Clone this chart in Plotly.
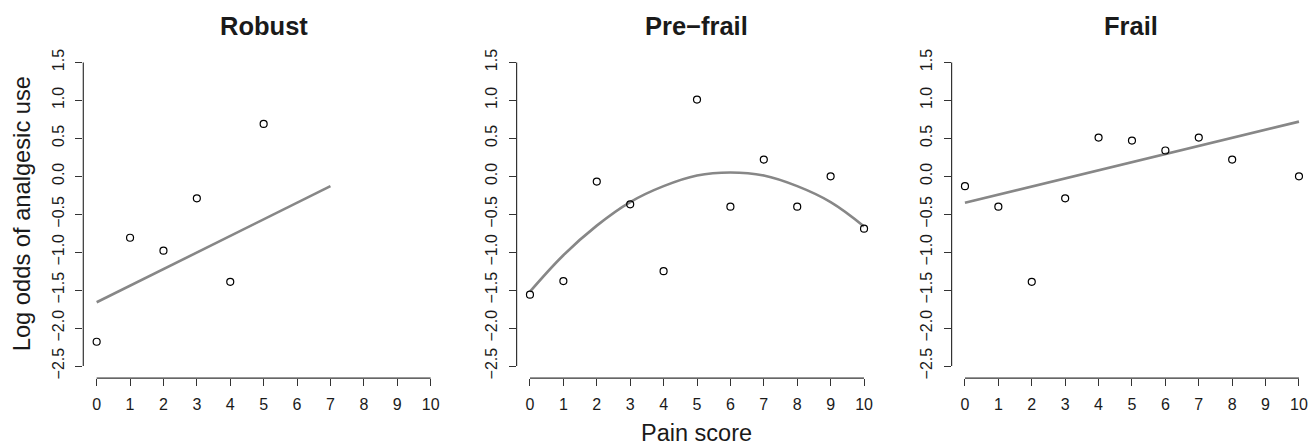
import plotly.graph_objects as go

# ---- data ----
panel_titles = ["Robust", "Pre\u2212frail", "Frail"]

pain_robust = [0, 1, 2, 3, 4, 5]
logodds_robust = [-2.18, -0.81, -0.98, -0.29, -1.39, 0.69]
fit_robust_x = [0, 7]
fit_robust_y = [-1.66, -0.13]

pain_prefrail = [0, 1, 2, 3, 4, 5, 6, 7, 8, 9, 10]
logodds_prefrail = [-1.56, -1.38, -0.07, -0.37, -1.25, 1.01, -0.40, 0.22, -0.40, 0.0, -0.69]
fit_prefrail_x = [0, 1, 2, 3, 4, 5, 6, 7, 8, 9, 10]
fit_prefrail_y = [-1.52, -1.04, -0.65, -0.34, -0.13, 0.01, 0.05, 0.01, -0.13, -0.34, -0.66]

pain_frail = [0, 1, 2, 3, 4, 5, 6, 7, 8, 10]
logodds_frail = [-0.13, -0.40, -1.39, -0.29, 0.51, 0.47, 0.34, 0.51, 0.22, 0.0]
fit_frail_x = [0, 10]
fit_frail_y = [-0.35, 0.72]

x_ticks = [0, 1, 2, 3, 4, 5, 6, 7, 8, 9, 10]
y_ticks = [-2.5, -2.0, -1.5, -1.0, -0.5, 0.0, 0.5, 1.0, 1.5]
y_ticklabels = ["\u22122.5", "\u22122.0", "\u22121.5", "\u22121.0", "\u22120.5", "0.0", "0.5", "1.0", "1.5"]

x_label = "Pain score"
y_label = "Log odds of analgesic use"

# ---- styling ----
W, H = 1311, 446
OFF = 0  # body margin removed by post_script below
FONT = "Liberation Sans, Arial, Helvetica, sans-serif"
AX_COLOR = "#333333"
TXT_COLOR = "#1a1a1a"
FIT_COLOR = "#878787"


def fx_(p):  # page px -> paper x
    return (p - OFF) / W


def fy_(p):  # page px -> paper y
    return 1 - (p - OFF) / H


# plot-area page-pixel boxes (left, right) for each panel
panel_px = [(83.3, 444.0), (516.6, 877.4), (951.6, 1311.0)]
x_ranges = [[-0.4, 10.4], [-0.4, 10.4], [-0.4, 10.36]]
y_dom = [fy_(378.9), fy_(49.5)]
y_range = [-2.66, 1.66]

series = [
    (pain_robust, logodds_robust, fit_robust_x, fit_robust_y, "linear"),
    (pain_prefrail, logodds_prefrail, fit_prefrail_x, fit_prefrail_y, "spline"),
    (pain_frail, logodds_frail, fit_frail_x, fit_frail_y, "linear"),
]

fig = go.Figure()
layout = dict(
    width=W, height=H,
    margin=dict(l=0, r=0, t=0, b=0),
    paper_bgcolor="white", plot_bgcolor="white",
    showlegend=False,
    font=dict(family=FONT, color=TXT_COLOR),
)
shapes = []
annotations = []

for i, (px, py, fx, fy, shape) in enumerate(series):
    n = "" if i == 0 else str(i + 1)
    xa, ya = "x" + n, "y" + n
    fig.add_trace(go.Scatter(
        x=fx, y=fy, mode="lines", xaxis=xa, yaxis=ya,
        line=dict(color=FIT_COLOR, width=2.6, shape=shape, smoothing=1.1),
        hoverinfo="skip",
    ))
    fig.add_trace(go.Scatter(
        x=px, y=py, mode="markers", xaxis=xa, yaxis=ya,
        marker=dict(symbol="circle-open", size=7, color="black", line=dict(width=1.2, color="black")),
    ))
    l, r = panel_px[i]
    layout["xaxis" + n] = dict(
        domain=[fx_(l), min(fx_(r), 1.0)], range=x_ranges[i], anchor=ya,
        showgrid=False, zeroline=False, showline=False,
        tickmode="array", tickvals=x_ticks, ticktext=[str(t) for t in x_ticks],
        ticks="outside", ticklen=7, tickwidth=1, tickcolor=AX_COLOR,
        ticklabelstandoff=5,
        tickfont=dict(size=16, family=FONT, color=TXT_COLOR),
        fixedrange=True,
    )
    layout["yaxis" + n] = dict(
        domain=y_dom, range=y_range, anchor=xa,
        showgrid=False, zeroline=False, showline=False,
        tickmode="array", tickvals=y_ticks, ticktext=y_ticklabels,
        tickangle=-90,
        ticks="outside", ticklen=7, tickwidth=1, tickcolor=AX_COLOR,
        ticklabelstandoff=5,
        tickfont=dict(size=16, family=FONT, color=TXT_COLOR),
        fixedrange=True,
    )
    # R-style axis lines spanning only first..last tick
    shapes.append(dict(type="line", xref=xa, x0=min(x_ticks), x1=max(x_ticks),
                       yref=ya + " domain", y0=0, y1=0,
                       line=dict(color=AX_COLOR, width=1.2)))
    shapes.append(dict(type="line", xref=xa + " domain", x0=0, x1=0,
                       yref=ya, y0=min(y_ticks), y1=max(y_ticks),
                       line=dict(color=AX_COLOR, width=1.2)))
    annotations.append(dict(
        text="<b>%s</b>" % panel_titles[i], xref="paper", yref="paper",
        x=fx_((l + r) / 2), y=fy_(25), xanchor="center", yanchor="middle",
        showarrow=False, font=dict(size=25.5, family=FONT, color=TXT_COLOR),
    ))

annotations.append(dict(
    text=x_label, xref="paper", yref="paper",
    x=fx_(697), y=fy_(434), xanchor="center", yanchor="middle",
    showarrow=False, font=dict(size=23.5, family=FONT, color=TXT_COLOR),
))
annotations.append(dict(
    text=y_label, xref="paper", yref="paper", textangle=-90,
    x=fx_(22), y=(y_dom[0] + y_dom[1]) / 2, xanchor="center", yanchor="middle",
    showarrow=False, font=dict(size=23.7, family=FONT, color=TXT_COLOR),
))

layout["shapes"] = shapes
layout["annotations"] = annotations
fig.update_layout(**layout)

page_css = (
    "document.documentElement.style.margin='0';"
    "document.documentElement.style.overflow='hidden';"
    "document.body.style.margin='0';"
    "document.body.style.overflow='hidden';"
)
fig.write_html("out.html", config={"displayModeBar": False}, post_script=page_css)
